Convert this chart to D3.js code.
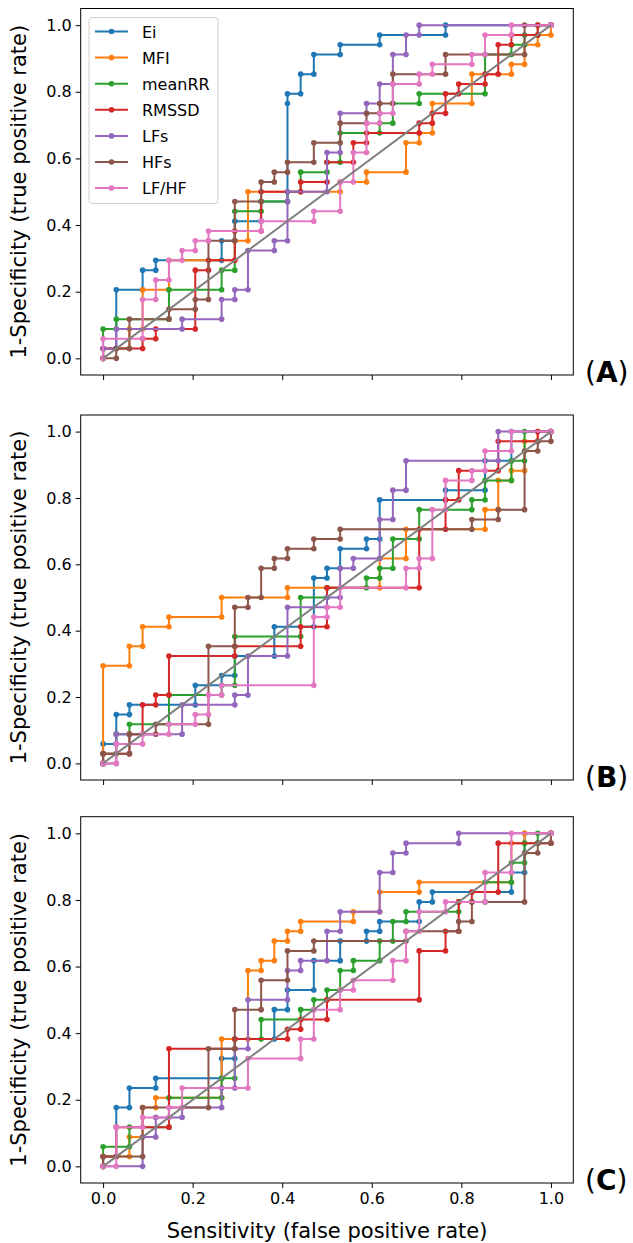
<!DOCTYPE html>
<html><head><meta charset="utf-8">
<script src="https://cdn.jsdelivr.net/npm/d3@7"></script>
<style>body{margin:0;background:#fff;overflow:hidden} svg{display:block} text{font-family:"DejaVu Sans",sans-serif}</style>
</head><body><svg id="c" width="633" height="1243"></svg>
<script>
const seriesNames = ["Ei","MFI","meanRR","RMSSD","LFs","HFs","LF/HF"];
const seriesColors = ["#1f77b4","#ff7f0e","#2ca02c","#d62728","#9467bd","#8c564b","#e377c2"];
const tickValues = [0,0.2,0.4,0.6,0.8,1.0];
const tickLabels = ["0.0","0.2","0.4","0.6","0.8","1.0"];
const panelLetters = ["A","B","C"];
const N_NEG = 34, N_POS = 34; // ROC points as [false-positive count, true-positive count]

const A_Ei = [[0,0],[0,1],[1,1],[1,7],[3,7],[3,9],[4,9],[4,10],[9,10],[9,12],[10,12],[10,14],[12,14],[12,16],[14,16],[14,26],[14,27],[15,27],[15,29],[16,29],[16,31],[18,31],[18,32],[21,32],[21,33],[26,33],[26,34],[34,34]];
const A_MFI = [[0,0],[0,1],[2,1],[2,3],[3,3],[3,7],[5,7],[5,10],[10,10],[10,12],[11,12],[11,17],[18,17],[18,18],[20,18],[20,19],[23,19],[23,22],[24,22],[24,23],[25,23],[25,26],[28,26],[28,29],[31,29],[31,30],[32,30],[32,32],[33,32],[33,33],[34,33],[34,34]];
const A_meanRR = [[0,0],[0,3],[1,3],[1,4],[5,4],[5,7],[9,7],[9,9],[10,9],[10,15],[12,15],[12,16],[14,16],[14,17],[15,17],[15,19],[17,19],[17,20],[18,20],[18,23],[21,23],[21,24],[22,24],[22,26],[24,26],[24,27],[29,27],[29,31],[31,31],[31,32],[32,32],[32,33],[33,33],[33,34],[34,34]];
const A_RMSSD = [[0,0],[0,1],[3,1],[3,2],[4,2],[4,3],[7,3],[7,9],[8,9],[8,10],[10,10],[10,13],[12,13],[12,17],[15,17],[15,18],[17,18],[17,20],[19,20],[19,22],[20,22],[20,23],[24,23],[24,24],[25,24],[25,25],[26,25],[26,27],[27,27],[27,28],[29,28],[29,29],[30,29],[30,32],[31,32],[31,33],[33,33],[33,34],[34,34]];
const A_LFs = [[0,0],[0,1],[1,1],[1,3],[6,3],[6,4],[9,4],[9,6],[10,6],[10,7],[11,7],[11,11],[13,11],[13,12],[14,12],[14,16],[14,17],[17,17],[17,21],[18,21],[18,25],[20,25],[20,26],[21,26],[21,28],[22,28],[22,31],[23,31],[23,33],[24,33],[24,34],[34,34]];
const A_HFs = [[0,0],[1,0],[1,1],[2,1],[2,4],[5,4],[5,5],[7,5],[7,6],[8,6],[8,12],[10,12],[10,16],[12,16],[12,18],[13,18],[13,19],[14,19],[14,20],[16,20],[16,22],[18,22],[18,24],[20,24],[20,25],[21,25],[21,26],[22,26],[22,29],[26,29],[26,31],[32,31],[32,34],[34,34]];
const A_LFHF = [[0,0],[0,2],[3,2],[3,6],[4,6],[4,8],[5,8],[5,10],[6,10],[6,11],[7,11],[7,12],[8,12],[8,13],[12,13],[12,14],[16,14],[16,15],[18,15],[18,18],[19,18],[19,21],[20,21],[20,24],[21,24],[21,25],[22,25],[22,28],[24,28],[24,29],[25,29],[25,30],[28,30],[28,31],[29,31],[29,33],[31,33],[31,34],[34,34]];

const B_Ei = [[0,0],[0,2],[1,2],[1,5],[2,5],[2,6],[7,6],[7,8],[9,8],[9,9],[10,9],[10,11],[13,11],[13,14],[16,14],[16,19],[17,19],[17,20],[18,20],[18,22],[20,22],[20,23],[21,23],[21,27],[26,27],[26,28],[29,28],[29,31],[31,31],[31,34],[34,34]];
const B_MFI = [[0,0],[0,10],[2,10],[2,12],[3,12],[3,14],[5,14],[5,15],[9,15],[9,17],[14,17],[14,18],[21,18],[21,21],[23,21],[23,24],[29,24],[29,26],[30,26],[30,29],[31,29],[31,30],[32,30],[32,33],[33,33],[33,34],[34,34]];
const B_meanRR = [[0,0],[0,1],[1,1],[1,3],[2,3],[2,4],[5,4],[5,7],[9,7],[9,8],[10,8],[10,13],[15,13],[15,17],[17,17],[17,18],[20,18],[20,19],[21,19],[21,20],[22,20],[22,23],[24,23],[24,26],[28,26],[28,27],[29,27],[29,29],[31,29],[31,31],[32,31],[32,34],[34,34]];
const B_RMSSD = [[0,0],[0,1],[2,1],[2,3],[3,3],[3,6],[4,6],[4,7],[5,7],[5,11],[10,11],[10,12],[15,12],[15,14],[17,14],[17,18],[24,18],[24,24],[26,24],[26,27],[27,27],[27,30],[30,30],[30,33],[33,33],[33,34],[34,34]];
const B_LFs = [[0,0],[1,0],[1,3],[6,3],[6,6],[10,6],[10,7],[11,7],[11,11],[14,11],[14,16],[17,16],[17,17],[18,17],[18,20],[19,20],[19,21],[21,21],[21,25],[22,25],[22,28],[23,28],[23,31],[30,31],[30,34],[34,34]];
const B_HFs = [[0,0],[0,1],[2,1],[2,3],[4,3],[4,4],[8,4],[8,12],[10,12],[10,16],[11,16],[11,17],[12,17],[12,20],[13,20],[13,21],[14,21],[14,22],[16,22],[16,23],[18,23],[18,24],[28,24],[28,25],[30,25],[30,26],[32,26],[32,32],[33,32],[33,33],[34,33],[34,34]];
const B_LFHF = [[0,0],[1,0],[1,2],[3,2],[3,3],[5,3],[5,4],[7,4],[7,5],[8,5],[8,7],[9,7],[9,8],[16,8],[16,15],[17,15],[17,16],[18,16],[18,18],[23,18],[23,20],[24,20],[24,21],[25,21],[25,26],[26,26],[26,29],[28,29],[28,30],[29,30],[29,32],[31,32],[31,34],[34,34]];

const C_Ei = [[0,0],[0,1],[1,1],[1,6],[2,6],[2,8],[4,8],[4,9],[9,9],[9,11],[10,11],[10,13],[13,13],[13,16],[14,16],[14,18],[16,18],[16,21],[18,21],[18,23],[20,23],[20,24],[21,24],[21,25],[24,25],[24,27],[25,27],[25,28],[31,28],[31,30],[32,30],[32,34],[34,34]];
const C_MFI = [[0,0],[0,1],[2,1],[2,3],[3,3],[3,6],[4,6],[4,7],[9,7],[9,13],[11,13],[11,20],[12,20],[12,21],[13,21],[13,23],[14,23],[14,24],[15,24],[15,25],[19,25],[19,26],[21,26],[21,28],[24,28],[24,29],[31,29],[31,33],[32,33],[32,34],[34,34]];
const C_meanRR = [[0,0],[0,2],[2,2],[2,4],[5,4],[5,7],[9,7],[9,9],[10,9],[10,13],[12,13],[12,15],[15,15],[15,16],[16,16],[16,17],[17,17],[17,18],[18,18],[18,20],[19,20],[19,21],[21,21],[21,23],[22,23],[22,25],[23,25],[23,26],[27,26],[27,27],[29,27],[29,29],[31,29],[31,31],[32,31],[32,33],[33,33],[33,34],[34,34]];
const C_RMSSD = [[0,0],[0,1],[1,1],[1,4],[5,4],[5,12],[10,12],[10,13],[14,13],[14,14],[15,14],[15,15],[17,15],[17,17],[24,17],[24,22],[26,22],[26,24],[27,24],[27,27],[28,27],[28,28],[30,28],[30,33],[34,33],[34,34]];
const C_LFs = [[0,0],[3,0],[3,3],[4,3],[4,5],[6,5],[6,6],[9,6],[9,8],[10,8],[10,12],[11,12],[11,17],[14,17],[14,20],[15,20],[15,21],[17,21],[17,24],[18,24],[18,26],[21,26],[21,30],[22,30],[22,32],[23,32],[23,33],[27,33],[27,34],[34,34]];
const C_HFs = [[0,0],[0,1],[3,1],[3,6],[8,6],[8,12],[10,12],[10,16],[12,16],[12,19],[14,19],[14,22],[16,22],[16,23],[23,23],[23,24],[27,24],[27,25],[28,25],[28,27],[32,27],[32,32],[33,32],[33,33],[34,33],[34,34]];
const C_LFHF = [[0,0],[1,0],[1,4],[3,4],[3,5],[5,5],[5,6],[6,6],[6,8],[11,8],[11,11],[15,11],[15,13],[16,13],[16,16],[18,16],[18,18],[19,18],[19,19],[22,19],[22,21],[23,21],[23,24],[24,24],[24,26],[26,26],[26,27],[29,27],[29,30],[31,30],[31,34],[34,34]];

const panelSeries = [
  [A_Ei, A_MFI, A_meanRR, A_RMSSD, A_LFs, A_HFs, A_LFHF],
  [B_Ei, B_MFI, B_meanRR, B_RMSSD, B_LFs, B_HFs, B_LFHF],
  [C_Ei, C_MFI, C_meanRR, C_RMSSD, C_LFs, C_HFs, C_LFHF]
];

const svg = d3.select("#c");
const L = 80.7, R = 573.3;
const boxes = [{top:8.5,bottom:375},{top:415,bottom:780},{top:816.7,bottom:1183}];
const x = d3.scaleLinear().domain([-0.05,1.05]).range([L,R]);

boxes.forEach((b,pi)=>{
  const y = d3.scaleLinear().domain([-0.05,1.05]).range([b.bottom,b.top]);
  const g = svg.append("g");
  const line = d3.line().x(d=>x(d[0]/N_NEG)).y(d=>y(d[1]/N_POS));
  panelSeries[pi].forEach((pts,si)=>{
    g.append("path").datum(pts).attr("d",line).attr("fill","none")
      .attr("stroke",seriesColors[si]).attr("stroke-width",2).attr("stroke-linejoin","round");
    g.selectAll(null).data(pts).enter().append("circle")
      .attr("cx",d=>x(d[0]/N_NEG)).attr("cy",d=>y(d[1]/N_POS)).attr("r",2.8)
      .attr("fill",seriesColors[si]);
  });
  g.append("line").attr("x1",x(0)).attr("y1",y(0)).attr("x2",x(1)).attr("y2",y(1))
    .attr("stroke","#808080").attr("stroke-width",2);
  svg.append("rect").attr("x",L).attr("y",b.top).attr("width",R-L).attr("height",b.bottom-b.top)
    .attr("fill","none").attr("stroke","#000").attr("stroke-width",1);
  const ya = d3.axisLeft(y).tickValues(tickValues).tickFormat((d,i)=>tickLabels[i]).tickSize(5).tickPadding(4);
  const yg = svg.append("g").attr("transform",`translate(${L},0)`).call(ya);
  const xa = d3.axisBottom(x).tickValues(tickValues).tickFormat((d,i)=> pi===2 ? tickLabels[i] : "").tickSize(5).tickPadding(5);
  const xg = svg.append("g").attr("transform",`translate(0,${b.bottom})`).call(xa);
  [yg,xg].forEach(a=>{a.select(".domain").remove(); a.selectAll("text").attr("font-size",16).attr("fill","#000").attr("font-family","DejaVu Sans"); a.selectAll("line").attr("stroke","#000");});
  svg.append("text").attr("transform",`translate(26,${(b.top+b.bottom)/2}) rotate(-90)`)
    .attr("text-anchor","middle").attr("font-size",21).text("1-Specificity (true positive rate)");
  const t = svg.append("text").attr("x",585).attr("y",b.bottom+7).attr("font-size",28)
    .attr("font-family","Liberation Sans, Arial, sans-serif");
  t.append("tspan").text("(");
  t.append("tspan").attr("font-weight","bold").text(panelLetters[pi]);
  t.append("tspan").text(")");
});
svg.append("text").attr("x",327).attr("y",1238).attr("text-anchor","middle").attr("font-size",21)
  .text("Sensitivity (false positive rate)");

const lg = svg.append("g");
lg.append("rect").attr("x",89).attr("y",17.5).attr("width",129).attr("height",186).attr("rx",3)
  .attr("fill","#fff").attr("fill-opacity",0.8).attr("stroke","#d0d0d0").attr("stroke-width",1);
seriesNames.forEach((n,i)=>{
  const yy = 31.5 + i*26.1;
  lg.append("line").attr("x1",95).attr("x2",128).attr("y1",yy).attr("y2",yy).attr("stroke",seriesColors[i]).attr("stroke-width",2);
  lg.append("circle").attr("cx",111.5).attr("cy",yy).attr("r",2.8).attr("fill",seriesColors[i]);
  lg.append("text").attr("x",142).attr("y",yy+6).attr("font-size",16).text(n);
});
</script></body></html>
